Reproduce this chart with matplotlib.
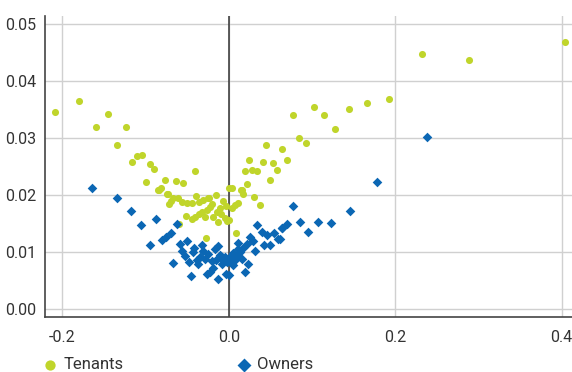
import numpy as np
import matplotlib
matplotlib.use('Agg')
import matplotlib.pyplot as plt

plt.rcParams['font.family'] = ['Roboto', 'DejaVu Sans']

# tenants (x, y)
tenants_x = [-0.209, -0.180, -0.160, -0.145, -0.124, -0.134, -0.1165, -0.110, -0.104, -0.094,
             -0.0897, -0.0405, -0.099, -0.0765, -0.0633, -0.0553, -0.0813, -0.084, 0.0, 0.0043,
             0.0144, 0.0196, 0.0248, 0.0276, 0.0336, 0.022, 0.0412, 0.0448, 0.0492, 0.0536,
             0.0584, 0.064, 0.0704, 0.0772, 0.0845, 0.0929, 0.1025, 0.114, 0.128, 0.145,
             0.166, 0.192, 0.232, 0.2887, 0.4036,
             -0.0745, -0.0693, -0.0713, -0.0665, -0.0605, -0.0565, -0.0505, -0.0445, -0.0393, -0.0353,
             -0.0305, -0.0245, -0.0153, -0.0072, -0.0513, -0.0445, -0.0405, -0.0353, -0.0325, -0.0285,
             -0.0264, -0.0225, -0.0185, -0.0144, -0.0125, -0.0096, -0.0044, -0.0024, 0.0008, -0.0593,
             -0.0273, 0.0088, 0.0036, 0.0076, 0.0116, 0.0156, 0.0168, 0.0304, 0.0376, -0.0733,
             -0.0237, -0.0845, -0.0205, -0.0105, -0.003]
tenants_y = [0.0345, 0.0365, 0.0319, 0.0341, 0.0319, 0.0288, 0.0258, 0.0267, 0.0270, 0.0254,
             0.0245, 0.0241, 0.0222, 0.0225, 0.0224, 0.0220, 0.0211, 0.0209, 0.0211, 0.0211,
             0.0209, 0.0241, 0.0261, 0.0243, 0.0241, 0.0219, 0.0258, 0.0288, 0.0226, 0.0255,
             0.0243, 0.0280, 0.0260, 0.0340, 0.0299, 0.0291, 0.0353, 0.0340, 0.0315, 0.0351,
             0.0361, 0.0368, 0.0446, 0.0436, 0.0467,
             0.0201, 0.0189, 0.0184, 0.0194, 0.0194, 0.0188, 0.0186, 0.0185, 0.0198, 0.0188,
             0.0191, 0.0194, 0.0199, 0.0189, 0.0163, 0.0157, 0.0161, 0.0167, 0.0170, 0.0161,
             0.0173, 0.0179, 0.0161, 0.0170, 0.0153, 0.0167, 0.0159, 0.0154, 0.0156, 0.0148,
             0.0124, 0.0133, 0.0176, 0.0182, 0.0186, 0.0208, 0.0202, 0.0196, 0.0182, 0.0202,
             0.0194, 0.0208, 0.0183, 0.0177, 0.0181]

# owners (x, y)
owners_x = [-0.164, 0.2378, 0.1785, 0.0772, 0.0644, 0.0697, 0.0853, 0.0949, 0.107, 0.1225,
            0.1453, 0.0616, -0.1338, -0.1174, -0.105, -0.0873, -0.0949, -0.0798, -0.0753, -0.0697,
            -0.0625, -0.0665, -0.0453, -0.0585, -0.0497, -0.0565, -0.0473, -0.0413, -0.0384, -0.0345,
            -0.0305, -0.0264, -0.0225, -0.0185, -0.0125, -0.0153, -0.0105, -0.0065, -0.0044, -0.0024,
            0.0016, -0.0032, 0.0008, 0.0056, 0.0076, 0.0116, 0.0136, 0.0196, 0.0236, 0.0216,
            0.0288, 0.0344, 0.0396, 0.0456, 0.0424, 0.0496, 0.0544, 0.0592, 0.0637, 0.0316,
            -0.0365, -0.0285, -0.0245, -0.0165, -0.0125, -0.0085, 0.0036, 0.0096, 0.0176, 0.0256,
            -0.0525, -0.0425, -0.0205, -0.0005, 0.0046, 0.0106, 0.0156, -0.0325, -0.0085, 0.0026]
owners_y = [0.0212, 0.0301, 0.0222, 0.0180, 0.0141, 0.0149, 0.0153, 0.0135, 0.0152, 0.0150,
            0.0171, 0.0122, 0.0194, 0.0171, 0.0146, 0.0157, 0.0112, 0.0121, 0.0125, 0.0132,
            0.0148, 0.0081, 0.0057, 0.0114, 0.0118, 0.0101, 0.0082, 0.0107, 0.0085, 0.0091,
            0.0101, 0.0061, 0.0065, 0.0071, 0.0053, 0.0085, 0.0094, 0.0085, 0.0091, 0.0082,
            0.0088, 0.0061, 0.0059, 0.0077, 0.0085, 0.0115, 0.0100, 0.0065, 0.0078, 0.0114,
            0.0118, 0.0147, 0.0135, 0.0129, 0.0112, 0.0112, 0.0133, 0.0122, 0.0141, 0.0102,
            0.0078, 0.0088, 0.0096, 0.0104, 0.0110, 0.0090, 0.0095, 0.0092, 0.0106, 0.0125,
            0.0092, 0.0099, 0.0083, 0.0087, 0.0098, 0.0105, 0.0088, 0.0112, 0.0078, 0.0083]

xticks = [-0.2, 0.0, 0.2, 0.4]
yticks = [0.00, 0.01, 0.02, 0.03, 0.04, 0.05]

green = '#c0d52b'
blue = '#0b67b4'

fig = plt.figure(figsize=(5.72, 3.72), dpi=100)
ax = fig.add_axes([0.0787, 0.147, 0.9213, 0.811])

ax.set_xlim(-0.2207, 0.4124)
ax.set_ylim(-0.0015, 0.0514)

ax.scatter(tenants_x, tenants_y, s=26, marker='o', color=green, linewidths=0, zorder=3, label='Tenants')
ax.scatter(owners_x, owners_y, s=24, marker='D', color=blue, linewidths=0, zorder=4, label='Owners')

ax.axvline(0, color='#333333', lw=1.1, zorder=2)

ax.set_xticks(xticks)
ax.set_xticklabels(['%.1f' % t for t in xticks])
ax.set_yticks(yticks)
ax.set_yticklabels(['%.2f' % t for t in yticks])
ax.grid(True, color='#d0d0d0', lw=1.0, zorder=0)
ax.set_axisbelow(True)
ax.tick_params(length=0, labelsize=11.5, colors='#333333', pad=6)
ax.tick_params(axis='x', pad=9)

for s in ['top', 'right']:
    ax.spines[s].set_visible(False)
ax.spines['left'].set_color('#444444')
ax.spines['bottom'].set_color('#444444')
ax.spines['left'].set_linewidth(1.2)
ax.spines['bottom'].set_linewidth(1.2)

fig.legend(loc='center left', bbox_to_anchor=(0.073, 0.019), ncol=2, frameon=False,
           fontsize=12, handlelength=1.0, handletextpad=0.28, borderaxespad=0, borderpad=0,
           columnspacing=6.75, markerscale=1.45, labelcolor='#333333')

fig.savefig('out.png', dpi=100)
